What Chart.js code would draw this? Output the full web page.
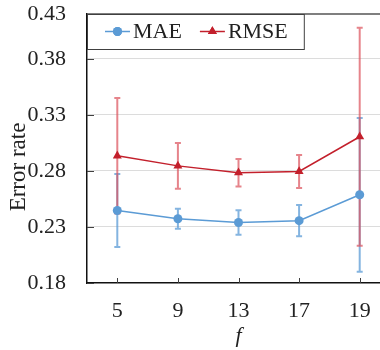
<!DOCTYPE html>
<html>
<head>
<meta charset="utf-8">
<script src="https://cdn.jsdelivr.net/npm/chart.js@4/dist/chart.umd.min.js"></script>
<style>
  html, body { margin: 0; padding: 0; overflow: hidden; background: #fff; }
  #wrap { width: 390px; height: 350px; }
</style>
</head>
<body>
<div id="wrap"><canvas id="errChart" width="390" height="350"></canvas></div>
<script>
const categories = ['5', '9', '13', '17', '19'];
const maeValues = [0.2447, 0.2373, 0.234, 0.2356, 0.2587];
const maeErrors = [0.0326, 0.009, 0.0109, 0.014, 0.0686];
const rmseValues = [0.2935, 0.2845, 0.2784, 0.2795, 0.3105];
const rmseErrors = [0.0515, 0.0204, 0.0122, 0.0148, 0.0972];
const yTickValues = [0.18, 0.23, 0.28, 0.33, 0.38, 0.42];
const yTickLabels = ['0.18', '0.23', '0.28', '0.33', '0.38', '0.43'];

const serif = 'Liberation Serif';

// error bars, drawn under the lines
const errorBars = {
  id: 'errorBars',
  beforeDatasetsDraw(chart) {
    const ctx = chart.ctx;
    const y = chart.scales.y;
    chart.data.datasets.forEach((ds, di) => {
      const meta = chart.getDatasetMeta(di);
      ctx.save();
      ctx.strokeStyle = ds.errorColor;
      ctx.lineWidth = 2;
      meta.data.forEach((pt, i) => {
        const top = y.getPixelForValue(ds.data[i] + ds.errors[i]);
        const bot = y.getPixelForValue(ds.data[i] - ds.errors[i]);
        ctx.beginPath();
        ctx.moveTo(pt.x, top); ctx.lineTo(pt.x, bot);
        ctx.moveTo(pt.x - 3, top); ctx.lineTo(pt.x + 3, top);
        ctx.moveTo(pt.x - 3, bot); ctx.lineTo(pt.x + 3, bot);
        ctx.stroke();
      });
      ctx.restore();
    });
  }
};

// inward ticks, top border, y title, legend box
const frame = {
  id: 'frame',
  beforeDatasetsDraw(chart) {
    const ctx = chart.ctx;
    const a = chart.chartArea;
    ctx.save();
    ctx.strokeStyle = '#404040';
    ctx.lineWidth = 1;
    chart.scales.y.ticks.forEach((t, i) => {
      const py = Math.round(chart.scales.y.getPixelForTick(i)) + 0.5;
      ctx.beginPath(); ctx.moveTo(a.left, py); ctx.lineTo(a.left + 7, py); ctx.stroke();
    });
    chart.scales.x.ticks.forEach((t, i) => {
      const px = Math.round(chart.scales.x.getPixelForTick(i)) + 0.5;
      ctx.beginPath(); ctx.moveTo(px, a.bottom); ctx.lineTo(px, a.bottom - 5); ctx.stroke();
    });
    ctx.strokeStyle = '#555';
    ctx.lineWidth = 1.5;
    ctx.beginPath(); ctx.moveTo(a.left, a.top); ctx.lineTo(chart.width, a.top); ctx.stroke();
    ctx.restore();
  },
  afterDraw(chart) {
    const ctx = chart.ctx;
    const a = chart.chartArea;
    ctx.save();
    // y title
    ctx.font = '23px "' + serif + '"';
    ctx.fillStyle = '#222';
    ctx.textAlign = 'center';
    ctx.textBaseline = 'middle';
    ctx.translate(19, 167);
    ctx.rotate(-Math.PI / 2);
    ctx.fillText('Error rate', 0, 0);
    ctx.restore();

    // legend
    ctx.save();
    ctx.font = '22px "' + serif + '"';
    const bx = a.left, by = a.top, bh = 35;
    let x = bx + 18;
    const items = chart.data.datasets.map(ds => ({ ds, w: ctx.measureText(ds.label).width }));
    let total = 18;
    items.forEach((it, i) => { total += 25 + 3 + it.w + (i < items.length - 1 ? 18 : 16); });
    ctx.fillStyle = '#fff';
    ctx.fillRect(bx, by, total, bh);
    ctx.strokeStyle = '#404040';
    ctx.lineWidth = 1;
    ctx.strokeRect(bx + 0.5, by + 0.5, total, bh);
    const cy = by + bh / 2;
    items.forEach(it => {
      ctx.strokeStyle = it.ds.borderColor;
      ctx.lineWidth = 1.5;
      ctx.beginPath(); ctx.moveTo(x, cy); ctx.lineTo(x + 25, cy); ctx.stroke();
      ctx.fillStyle = it.ds.borderColor;
      Chart.helpers.drawPoint(ctx, { pointStyle: it.ds.pointStyle, radius: it.ds.pointRadius, rotation: 0, borderWidth: 0 }, x + 12.5, cy);
      ctx.fill();
      ctx.fillStyle = '#222';
      ctx.textAlign = 'left';
      ctx.textBaseline = 'middle';
      ctx.fillText(it.ds.label, x + 28, cy + 1);
      x += 25 + 3 + it.w + 18;
    });
    ctx.restore();
  }
};

new Chart(document.getElementById('errChart'), {
  type: 'line',
  data: {
    labels: categories,
    datasets: [
      {
        label: 'MAE',
        data: maeValues,
        errors: maeErrors,
        borderColor: '#5b9bd5',
        backgroundColor: '#5b9bd5',
        errorColor: 'rgba(91,155,213,0.75)',
        borderWidth: 1.5,
        pointStyle: 'circle',
        pointRadius: 4.5,
        pointBorderWidth: 0,
        fill: false
      },
      {
        label: 'RMSE',
        data: rmseValues,
        errors: rmseErrors,
        borderColor: '#c3202c',
        backgroundColor: '#c3202c',
        errorColor: 'rgba(220,80,90,0.7)',
        borderWidth: 1.5,
        pointStyle: 'triangle',
        pointRadius: 5.2,
        pointBorderWidth: 0,
        fill: false
      }
    ]
  },
  options: {
    responsive: false,
    animation: false,
    layout: { autoPadding: false, padding: { top: 14, right: 0, left: 0, bottom: 0 } },
    plugins: {
      legend: { display: false },
      tooltip: { enabled: false }
    },
    scales: {
      x: {
        offset: true,
        grid: { display: false, drawTicks: false },
        border: { color: '#111', width: 1.5 },
        ticks: { color: '#222', font: { family: serif, size: 22 }, padding: 15, maxRotation: 0 },
        title: { display: true, text: 'f', color: '#222', font: { family: serif, size: 22, style: 'italic' }, padding: { top: 0, bottom: 1 } },
        afterFit(s) { s.height = 67; s.paddingLeft = 0; s.paddingRight = 0; }
      },
      y: {
        min: 0.18,
        max: 0.42,
        afterBuildTicks(s) { s.ticks = yTickValues.map(v => ({ value: v })); },
        grid: {
          drawTicks: false,
          color: c => (c.index === 0 || c.index === yTickValues.length - 1) ? 'transparent' : '#dcdcdc'
        },
        border: { color: '#111', width: 1.5 },
        ticks: {
          color: '#222',
          font: { family: serif, size: 22 },
          padding: 21,
          callback: (v, i) => yTickLabels[i]
        },
        afterFit(s) { s.width = 87; s.paddingTop = 0; s.paddingBottom = 0; }
      }
    }
  },
  plugins: [errorBars, frame]
});
</script>
</body>
</html>
